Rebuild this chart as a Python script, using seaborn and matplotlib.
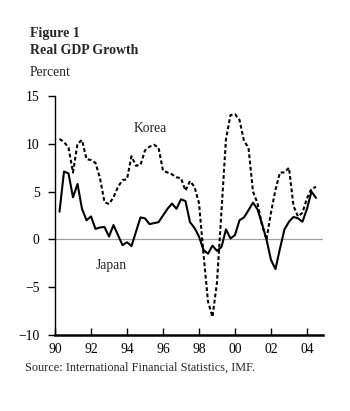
import numpy as np
import pandas as pd
import matplotlib
matplotlib.use("Agg")
import matplotlib.pyplot as plt
import seaborn as sns

# Quarterly real GDP growth, percent
quarters = pd.period_range("1990Q1", periods=58, freq="Q")
japan = [2.9, 7.1, 6.9, 4.4, 5.8, 3.2, 2.0, 2.4, 1.1, 1.25,
         1.3, 0.3, 1.5, 0.45, -0.6, -0.3, -0.7, 0.8, 2.3, 2.2,
         1.6, 1.7, 1.8, 2.5, 3.2, 3.75, 3.2, 4.2, 4.0, 1.8,
         1.2, 0.3, -1.1, -1.5, -0.65, -1.2, -0.8, 1.05, 0.1, 0.45,
         2.0, 2.3, 3.05, 3.85, 3.15, 1.65, 0.0, -2.15, -3.1, -0.95,
         1.05, 1.85, 2.35, 2.2, 1.85, 3.2, 5.0, 4.35]
korea = [10.5, 10.2, 9.6, 7.0, 10.0, 10.4, 8.4, 8.3, 8.0, 6.4,
         3.9, 3.7, 4.4, 5.5, 6.2, 6.3, 8.7, 7.7, 7.8, 9.3,
         9.7, 9.9, 9.6, 7.2, 7.0, 6.8, 6.5, 6.4, 5.1, 6.1,
         5.5, 3.8, -1.5, -6.5, -8.1, -4.5, 3.0, 10.5, 13.0, 13.1,
         12.5, 10.3, 9.6, 5.0, 3.8, 1.5, 0.0, 2.8, 5.2, 7.0,
         7.0, 7.5, 3.5, 2.4, 2.8, 4.3, 5.3, 5.5]
tick_years = [1990, 1992, 1994, 1996, 1998, 2000, 2002, 2004]
tick_labels = ["90", "92", "94", "96", "98", "00", "02", "04"]
y_ticks = [-10, -5, 0, 5, 10, 15]

df = pd.DataFrame({
    "t": quarters.year + quarters.quarter / 4,
    "Japan": japan,
    "Korea": korea,
})

sns.set_style("white")
plt.rcParams["font.family"] = ["Liberation Serif", "DejaVu Serif"]

fig = plt.figure(figsize=(3.5, 4.11), dpi=100)
ax = fig.add_axes([55 / 350, 1 - 335 / 411, 268 / 350, 239 / 411])

ax.axhline(0, color="#a0a0a0", lw=0.9, zorder=1)
sns.lineplot(data=df, x="t", y="Japan", ax=ax, color="black", lw=1.5, zorder=3)
sns.lineplot(data=df, x="t", y="Korea", ax=ax, color="black", lw=1.5,
             dashes=(1.8, 1.2), zorder=2)

ax.set_xlim(1990, 2004.89)
ax.set_ylim(-10, 15)
ax.set_xticks(tick_years)
ax.set_xticklabels(tick_labels)
ax.set_yticks(y_ticks)
ax.set_xlabel("")
ax.set_ylabel("")

for s in ["top", "right"]:
    ax.spines[s].set_visible(False)
ax.spines["left"].set_linewidth(1.0)
ax.spines["bottom"].set_linewidth(1.8)
ax.spines["left"].set_color("black")
ax.spines["bottom"].set_color("black")
ax.tick_params(axis="x", direction="in", length=5, width=1, pad=6, labelsize=9.8)
ax.tick_params(axis="y", direction="out", length=5, width=1, pad=6, labelsize=9.8)
ax.tick_params(left=True, bottom=True, colors="black")

ax.text(1995.3, 11.6, "Korea", fontsize=9.8, ha="center", va="center")
ax.text(1993.1, -2.7, "Japan", fontsize=9.8, ha="center", va="center")

fig.text(30 / 350, 1 - 34 / 411, "Figure 1", fontsize=10, fontweight="bold", va="center")
fig.text(30 / 350, 1 - 51 / 411, "Real GDP Growth", fontsize=10, fontweight="bold", va="center")
fig.text(30 / 350, 1 - 72 / 411, "Percent", fontsize=9.8, va="center")
fig.text(25 / 350, 1 - 368 / 411, "Source: International Financial Statistics, IMF.",
         fontsize=8.8, va="center")

fig.savefig("out.png", dpi=100)
